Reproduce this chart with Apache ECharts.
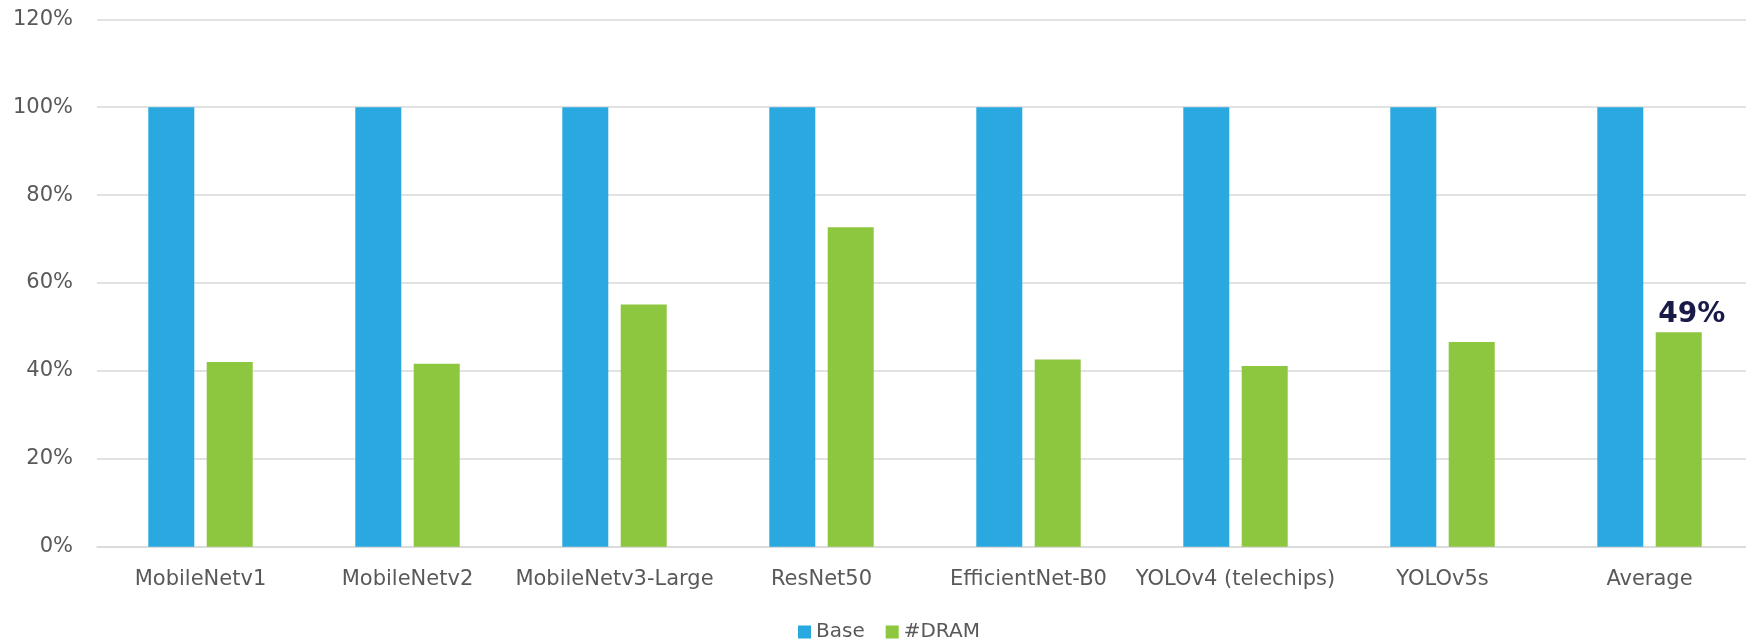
<!DOCTYPE html>
<html>
<head>
<meta charset="utf-8">
<script src="https://cdn.jsdelivr.net/npm/echarts@6/dist/echarts.min.js"></script>
<style>
html,body{margin:0;padding:0;background:#fff;}
#chart{width:1746px;height:642px;}
</style>
</head>
<body>
<div id="chart"></div>
<script>
const categories = ['MobileNetv1','MobileNetv2','MobileNetv3-Large','ResNet50','EfficientNet-B0','YOLOv4 (telechips)','YOLOv5s','Average'];
const baseValues = [100,100,100,100,100,100,100,100];
const dramValues = [42.0,41.6,55.1,72.7,42.6,41.1,46.6,48.8];
const yTicks = [0,20,40,60,80,100,120];
const averageLabel = '49%';

const font = 'DejaVu Sans';
const chart = echarts.init(document.getElementById('chart'));
chart.setOption({
  animation: false,
  backgroundColor: '#ffffff',
  grid: {left: 97, right: -7, top: 19.3, bottom: 95.3, containLabel: false, outerBoundsMode: 'none'},
  legend: {
    left: 798, top: 622, padding: 0,
    itemWidth: 13, itemHeight: 13, itemGap: 21,
    icon: 'rect',
    textStyle: {fontFamily: font, fontSize: 20, color: '#595959', padding: [0,0,0,0]},
    data: ['Base','#DRAM']
  },
  xAxis: {
    type: 'category',
    data: categories,
    axisLine: {lineStyle: {color: '#d9d9d9', width: 1.5}},
    axisTick: {show: false},
    axisLabel: {fontFamily: font, fontSize: 21, color: '#595959', margin: 22, interval: 0}
  },
  yAxis: {
    type: 'value',
    min: yTicks[0], max: yTicks[yTicks.length-1], interval: 20,
    axisLine: {show: false},
    axisTick: {show: false},
    splitLine: {lineStyle: {color: '#d9d9d9', width: 1.5}},
    axisLabel: {fontFamily: font, fontSize: 21, color: '#595959', margin: 24, padding: [3,0,0,0], formatter: v => v + '%'}
  },
  series: [
    {
      name: 'Base', type: 'bar', data: baseValues,
      barWidth: 46, barGap: '27%',
      itemStyle: {color: '#29a9e0'}
    },
    {
      name: '#DRAM', type: 'bar',
      data: dramValues.map((v, i) => i === dramValues.length - 1 ? {
        value: v,
        label: {
          show: true, position: 'top', distance: 4, offset: [13, 0],
          formatter: averageLabel,
          fontFamily: font, fontSize: 28, fontWeight: 'bold', color: '#1a1a48'
        }
      } : v),
      barWidth: 46,
      itemStyle: {color: '#8dc63f'}
    }
  ]
});
</script>
</body>
</html>
